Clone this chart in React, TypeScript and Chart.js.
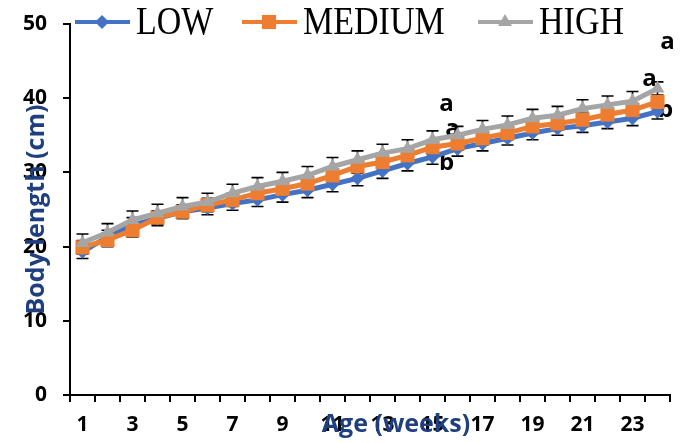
import React, { useEffect, useRef } from "react";
import { Chart, registerables } from "chart.js";

Chart.register(...registerables);

const weeks = ["1","2","3","4","5","6","7","8","9","10","11","12","13","14","15","16","17","18","19","20","21","22","23","24"];
const lowValues = [19.3, 21.3, 22.9, 23.8, 24.7, 25.2, 25.8, 26.3, 27.0, 27.6, 28.4, 29.2, 30.2, 31.2, 32.1, 33.2, 33.9, 34.6, 35.3, 35.9, 36.3, 36.8, 37.3, 38.2];
const mediumValues = [19.9, 20.9, 22.2, 23.9, 24.7, 25.6, 26.3, 27.2, 27.8, 28.5, 29.6, 30.8, 31.4, 32.3, 33.4, 33.9, 34.6, 35.3, 36.2, 36.6, 37.1, 37.8, 38.4, 39.5];
const highValues = [20.5, 21.9, 23.6, 24.5, 25.4, 26.0, 27.2, 28.1, 28.8, 29.6, 30.8, 31.7, 32.6, 33.2, 34.4, 35.0, 35.8, 36.4, 37.3, 37.7, 38.6, 39.1, 39.6, 41.3];
const lowErr = [0.9, 0.9, 1.0, 1.0, 0.9, 0.9, 0.9, 0.9, 1.0, 1.0, 1.0, 1.0, 1.0, 1.0, 1.0, 1.0, 1.0, 0.9, 0.9, 0.9, 0.9, 0.9, 1.0, 1.0];
const mediumErr = [0.9, 0.9, 0.9, 0.9, 0.9, 0.9, 0.9, 0.9, 0.9, 0.9, 0.9, 0.9, 0.9, 0.9, 0.9, 0.9, 0.9, 0.9, 0.9, 0.9, 0.9, 0.9, 0.9, 0.9];
const highErr = [1.2, 1.2, 1.2, 1.2, 1.2, 1.2, 1.2, 1.2, 1.2, 1.2, 1.2, 1.2, 1.2, 1.2, 1.2, 1.2, 1.2, 1.2, 1.2, 1.2, 1.2, 1.2, 1.3, 0.9];
const yTicks = [0, 10, 20, 30, 40, 50];

const seriesNames = ["LOW", "MEDIUM", "HIGH"];
const letterWeeks = ["15", "24"];
const lowLetters = ["b", "b"];
const mediumLetters = ["a", "a"];
const highLetters = ["a", "a"];

const COLORS = ["#4472C4", "#ED7D31", "#A5A5A5"];
const STYLES = ["rectRot", "rect", "triangle"];
const RADII = [7, 10, 8];
const TITLE_COLOR = "#1F3F7F";
const TICK_FONT = "'Open Sans', 'DejaVu Sans', sans-serif";

function drawMarker(ctx: CanvasRenderingContext2D, style: string, x: number, y: number, r: number, color: string) {
  ctx.save();
  ctx.fillStyle = color;
  ctx.beginPath();
  if (style === "rectRot") {
    ctx.moveTo(x - r, y);
    ctx.lineTo(x, y - r);
    ctx.lineTo(x + r, y);
    ctx.lineTo(x, y + r);
  } else if (style === "rect") {
    const s = r * Math.SQRT1_2;
    ctx.rect(x - s, y - s, 2 * s, 2 * s);
  } else {
    ctx.moveTo(x, y - r);
    ctx.lineTo(x + r * Math.sin(Math.PI / 3), y + r / 2);
    ctx.lineTo(x - r * Math.sin(Math.PI / 3), y + r / 2);
  }
  ctx.closePath();
  ctx.fill();
  ctx.restore();
}

const errorBarPlugin = {
  id: "errorBars",
  beforeDatasetsDraw(chart: any) {
    const ctx = chart.ctx;
    const xScale = chart.scales.x;
    const yScale = chart.scales.y;
    const errs = [lowErr, mediumErr, highErr];
    ctx.save();

    // significance letters (drawn behind the series)
    const letterSets = [lowLetters, mediumLetters, highLetters];
    const valueSets = [lowValues, mediumValues, highValues];
    const offsets: Record<string, number[][]> = {
      "15": [[14, 6], [20, -18], [14, -36]],
      "24": [[8, -1], [-8, -23], [10, -46]],
    };
    ctx.fillStyle = "#000";
    ctx.font = `bold 24px ${TICK_FONT}`;
    ctx.textAlign = "center";
    ctx.textBaseline = "middle";
    letterWeeks.forEach((w, wi) => {
      const idx = weeks.indexOf(w);
      const x = xScale.getPixelForValue(idx);
      letterSets.forEach((letters, si) => {
        const y = yScale.getPixelForValue(valueSets[si][idx]);
        const off = offsets[w][si];
        ctx.fillText(letters[wi], x + off[0], y + off[1]);
      });
    });

    ctx.strokeStyle = "#000";
    ctx.lineWidth = 1.6;
    chart.data.datasets.forEach((ds: any, di: number) => {
      const meta = chart.getDatasetMeta(di);
      meta.data.forEach((el: any, i: number) => {
        const v = ds.data[i];
        const e = errs[di][i];
        const yt = yScale.getPixelForValue(v + e);
        const yb = yScale.getPixelForValue(v - e);
        const x = el.x;
        ctx.beginPath();
        ctx.moveTo(x, yt);
        ctx.lineTo(x, yb);
        ctx.moveTo(x - 6, yt);
        ctx.lineTo(x + 6, yt);
        ctx.moveTo(x - 6, yb);
        ctx.lineTo(x + 6, yb);
        ctx.stroke();
      });
    });
    ctx.restore();
  },
};

const overlayPlugin = {
  id: "overlay",
  afterDraw(chart: any) {
    const ctx = chart.ctx;
    const area = chart.chartArea;
    ctx.save();

    // legend
    const legendX = [75, 242, 478];
    const legendY = 22;
    ctx.textBaseline = "middle";
    ctx.textAlign = "left";
    seriesNames.forEach((name, i) => {
      const x0 = legendX[i];
      ctx.strokeStyle = COLORS[i];
      ctx.lineWidth = 4;
      ctx.beginPath();
      ctx.moveTo(x0, legendY);
      ctx.lineTo(x0 + 55, legendY);
      ctx.stroke();
      drawMarker(ctx, STYLES[i], x0 + 27, legendY, RADII[i], COLORS[i]);
      ctx.save();
      ctx.translate(x0 + 61, legendY + 1);
      ctx.scale(0.85, 1);
      ctx.fillStyle = "#000";
      ctx.font = "40px 'Liberation Serif', 'Times New Roman', serif";
      ctx.fillText(name, 0, 0);
      ctx.restore();
    });

    // axis titles
    ctx.fillStyle = TITLE_COLOR;
    ctx.font = `bold 25px ${TICK_FONT}`;
    ctx.textAlign = "center";
    ctx.textBaseline = "middle";
    ctx.fillText("Age (weeks)", 396, 425);
    ctx.save();
    ctx.translate(37, (area.top + area.bottom) / 2);
    ctx.rotate(-Math.PI / 2);
    ctx.fillText("Body length (cm)", 0, 0);
    ctx.restore();

    ctx.restore();
  },
};

export default function App() {
  const canvasRef = useRef<HTMLCanvasElement | null>(null);

  useEffect(() => {
    const canvas = canvasRef.current;
    if (!canvas) return;
    const values = [lowValues, mediumValues, highValues];
    const chart = new Chart(canvas, {
      type: "line",
      data: {
        labels: weeks,
        datasets: seriesNames.map((name, i) => ({
          label: name,
          data: values[i],
          borderColor: COLORS[i],
          backgroundColor: COLORS[i],
          borderWidth: 5,
          pointStyle: STYLES[i] as any,
          pointRadius: RADII[i],
          pointBorderWidth: 0,
          pointBackgroundColor: COLORS[i],
          tension: 0,
          order: 3 - i,
        })),
      },
      options: {
        responsive: false,
        animation: false,
        layout: { padding: { top: 24, right: 16, left: 0, bottom: 0 } },
        plugins: {
          legend: { display: false },
          tooltip: { enabled: false },
        },
        scales: {
          x: {
            type: "category",
            offset: true,
            grid: {
              offset: true,
              drawOnChartArea: false,
              drawTicks: true,
              tickLength: 7,
              color: "#000",
              lineWidth: 2,
            },
            border: { display: true, color: "#000", width: 2 },
            ticks: {
              autoSkip: false,
              maxRotation: 0,
              padding: 10,
              color: "#000",
              font: { family: TICK_FONT, size: 21, weight: "bold" },
              callback: (_v: any, i: number) => (i % 2 === 0 ? weeks[i] : ""),
            },
            afterFit: (scale: any) => {
              scale.height = 48;
              scale.paddingLeft = 0;
              scale.paddingRight = 0;
            },
          },
          y: {
            min: yTicks[0],
            max: yTicks[yTicks.length - 1],
            afterBuildTicks: (scale: any) => {
              scale.ticks = yTicks.map((v) => ({ value: v }));
            },
            grid: {
              drawOnChartArea: false,
              drawTicks: true,
              tickLength: 7,
              color: "#000",
              lineWidth: 2,
            },
            border: { display: true, color: "#000", width: 2 },
            ticks: {
              padding: 16,
              color: "#000",
              font: { family: TICK_FONT, size: 21, weight: "bold" },
            },
            afterFit: (scale: any) => {
              scale.width = 70;
              scale.paddingTop = 0;
              scale.paddingBottom = 0;
            },
          },
        },
      },
      plugins: [errorBarPlugin, overlayPlugin],
    });
    return () => chart.destroy();
  }, []);

  return (
    <div style={{ position: "absolute", left: 0, top: 0, width: 686, height: 443 }}>
      <canvas ref={canvasRef} width={686} height={443} style={{ display: "block" }} />
    </div>
  );
}
